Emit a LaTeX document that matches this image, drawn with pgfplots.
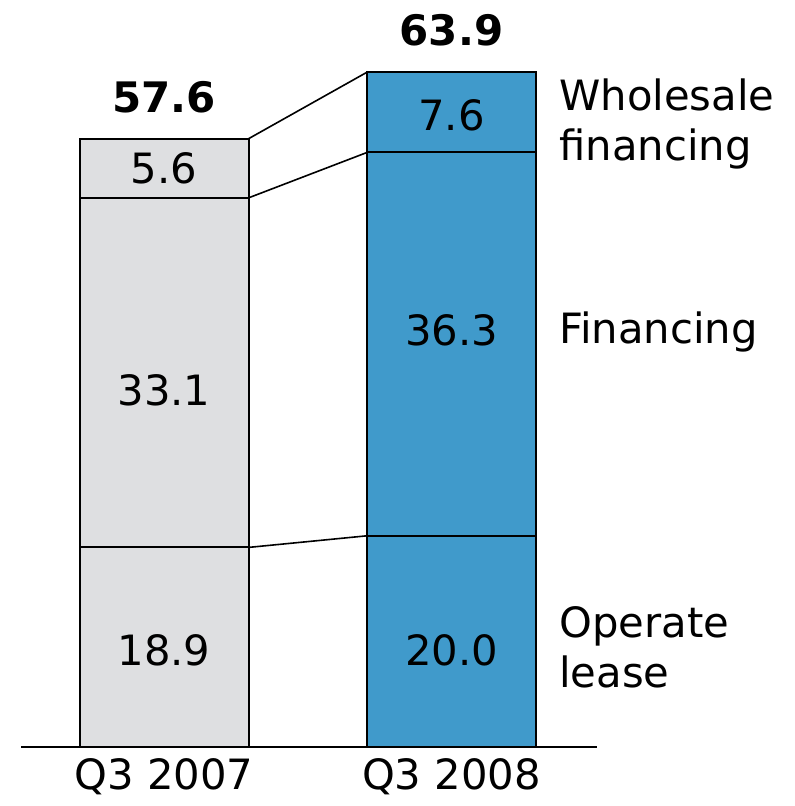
\documentclass[border=0pt]{standalone}
\usepackage{pgfplots}
\pgfplotsset{compat=1.18}
\usepackage{fontspec}
\setmainfont{DejaVu Sans}
\definecolor{barGray}{HTML}{DEDFE1}
\definecolor{barBlue}{HTML}{409ACB}
\pgfplotsset{
  base/.style={
    width=595.5pt, height=604.5pt, scale only axis,
    xmin=0, xmax=794, ymin=-5.587, ymax=70.739,
    hide axis, clip=false,
  },
  stk/.style={base, ybar stacked, bar width=169},
}
\begin{document}
\begin{tikzpicture}[font=\fontsize{31.3}{37.5}\selectfont]
\begin{axis}[stk]
\addplot[draw=black, line width=1.5pt, fill=barGray] coordinates {(164,18.9)};
\addplot[draw=black, line width=1.5pt, fill=barGray] coordinates {(164,33.1)};
\addplot[draw=black, line width=1.5pt, fill=barGray] coordinates {(164,5.6)};
\end{axis}
\begin{axis}[stk]
\addplot[draw=black, line width=1.5pt, fill=barBlue] coordinates {(451.5,20.0)};
\addplot[draw=black, line width=1.5pt, fill=barBlue] coordinates {(451.5,36.3)};
\addplot[draw=black, line width=1.5pt, fill=barBlue] coordinates {(451.5,7.6)};
\end{axis}
\begin{axis}[base]
\path (rel axis cs:0,0) rectangle (rel axis cs:1,1);
\addplot[black, line width=1.4pt, no marks] coordinates {(21,0) (597,0)};
\addplot[black, line width=1.2pt, no marks] coordinates {(248.5,57.6) (367,63.9)};
\addplot[black, line width=1.2pt, no marks] coordinates {(248.5,52.0) (367,56.3)};
\addplot[black, line width=1.2pt, no marks] coordinates {(248.5,18.9) (367,20.0)};
\node[font=\fontsize{31.5}{37.5}\selectfont\bfseries] at (axis cs:164,61.55) {57.6};
\node[font=\fontsize{31.5}{37.5}\selectfont\bfseries] at (axis cs:451.5,67.9) {63.9};
\node at (axis cs:164,54.83) {5.6};
\node at (axis cs:164,33.8) {33.1};
\node at (axis cs:164,9.19) {18.9};
\node at (axis cs:451.5,59.85) {7.6};
\node at (axis cs:451.5,39.49) {36.3};
\node at (axis cs:451.5,9.19) {20.0};
\node[anchor=west, align=left, inner sep=0pt] at (axis cs:559,58.95) {Wholesale\\financing};
\node[anchor=west, inner sep=0pt] at (axis cs:559,39.3) {Financing};
\node[anchor=west, align=left, inner sep=0pt] at (axis cs:559,9.4) {Operate\\lease};
\node at (axis cs:164,-2.84) {Q3 2007};
\node at (axis cs:451.5,-2.84) {Q3 2008};
\end{axis}
\end{tikzpicture}
\end{document}
